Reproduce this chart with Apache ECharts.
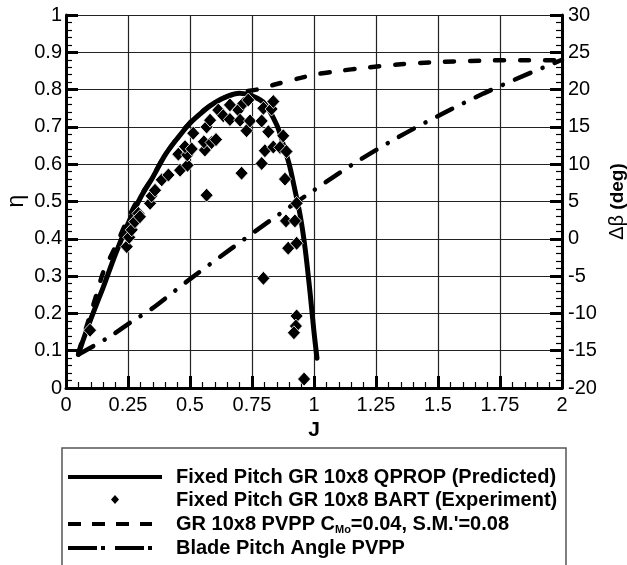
<!DOCTYPE html>
<html><head><meta charset="utf-8">
<script src="https://cdn.jsdelivr.net/npm/echarts@6/dist/echarts.min.js"></script>
<style>html,body{margin:0;padding:0;background:#fff}#c{width:627px;height:565px}</style>
</head><body><div id="c"></div>
<script>
// Fixed pitch QPROP (predicted): J vs eta
const qpropJ   = [0.05,0.07,0.10,0.15,0.20,0.25,0.30,0.35,0.40,0.45,0.50,0.55,0.60,0.65,0.70,0.75,0.80,0.85,0.875,0.90,0.92,0.945,0.965,0.985,1.00,1.012];
const qpropEta = [0.09,0.13,0.185,0.27,0.36,0.44,0.51,0.565,0.625,0.67,0.71,0.74,0.765,0.782,0.79,0.783,0.763,0.705,0.655,0.60,0.54,0.46,0.37,0.25,0.15,0.08];
// Fixed pitch BART (experiment)
const expJ   = [0.097,0.245,0.255,0.265,0.278,0.292,0.298,0.339,0.345,0.359,0.386,0.413,0.46,0.49,0.453,0.489,0.48,0.507,0.513,0.567,0.56,0.556,0.587,0.605,0.567,0.581,0.614,0.634,0.661,0.661,0.695,0.702,0.715,0.728,0.742,0.735,0.708,0.789,0.796,0.789,0.802,0.816,0.829,0.836,0.836,0.863,0.876,0.889,0.883,0.93,0.887,0.923,0.896,0.93,0.796,0.93,0.927,0.919,0.96];
const expEta = [0.155,0.379,0.404,0.424,0.446,0.468,0.459,0.495,0.515,0.53,0.558,0.571,0.584,0.597,0.627,0.625,0.647,0.641,0.683,0.517,0.638,0.66,0.658,0.666,0.70,0.718,0.745,0.73,0.759,0.72,0.745,0.718,0.763,0.69,0.716,0.772,0.576,0.716,0.75,0.602,0.636,0.687,0.748,0.768,0.646,0.645,0.676,0.634,0.56,0.495,0.448,0.448,0.375,0.388,0.294,0.193,0.166,0.148,0.024];
// PVPP efficiency
const pvppJ   = [0.05,0.09,0.125,0.15,0.20,0.24,0.285,0.34,0.40,0.50,0.60,0.70,0.77,0.85,0.95,1.00,1.10,1.20,1.35,1.50,1.70,1.85,2.00];
const pvppEta = [0.095,0.18,0.255,0.31,0.38,0.44,0.50,0.555,0.625,0.712,0.766,0.792,0.80,0.815,0.832,0.84,0.85,0.858,0.868,0.874,0.878,0.879,0.879];
// Blade pitch angle PVPP (deg, right axis)
const pitchJ    = [0.05,0.177,0.265,0.345,0.50,0.665,0.83,0.99,1.157,1.333,1.508,1.685,1.87,2.00];
const pitchBeta = [-15.5,-13.1,-11.1,-9.4,-5.4,-1.35,2.6,6.3,10,13.5,16.6,19.5,22.2,24];

const xTicks = [0,0.25,0.5,0.75,1,1.25,1.5,1.75,2];

const zip = (a,b)=>a.map((v,i)=>[v,b[i]]);
const FONT = '"Liberation Sans", Arial, Helvetica, sans-serif';

const chart = echarts.init(document.getElementById('c'), null, {renderer:'canvas'});

const axisCommon = {
  axisLine:{show:true,lineStyle:{color:'#000',width:3}},
  axisTick:{show:true,inside:true,length:12,lineStyle:{color:'#000',width:3}},
  minorTick:{show:true,splitNumber:5,length:6,lineStyle:{color:'#000',width:1.2}},
  axisLabel:{color:'#000',fontSize:20,fontFamily:FONT}
};

chart.setOption({
  animation:false,
  backgroundColor:'#fff',
  grid:{left:66,right:65,top:15,bottom:177,containLabel:false,outerBoundsMode:'none'},
  xAxis:{
    type:'value',min:xTicks[0],max:xTicks[xTicks.length-1],interval:0.25,
    ...axisCommon,
    axisLabel:{...axisCommon.axisLabel,margin:7},
    splitLine:{show:true,lineStyle:{color:'#222',width:1.2}},
    name:'J',nameLocation:'middle',nameGap:31,
    nameTextStyle:{color:'#000',fontSize:21,fontWeight:'bold',fontFamily:FONT}
  },
  yAxis:[{
    type:'value',min:0,max:1,interval:0.1,
    ...axisCommon,
    axisLabel:{...axisCommon.axisLabel,margin:4},
    splitLine:{show:true,lineStyle:{color:'#222',width:1.2}}
  },{
    type:'value',min:-20,max:30,interval:5,position:'right',
    ...axisCommon,
    axisLabel:{...axisCommon.axisLabel,margin:6},
    splitLine:{show:false},
    name:'{a|Δβ} {b|(deg)}',nameLocation:'middle',nameGap:45,nameRotate:90,
    nameTextStyle:{color:'#000',fontSize:19,fontFamily:FONT,
      rich:{a:{fontSize:20,fontFamily:FONT,color:'#000'},b:{fontSize:19,fontWeight:'bold',fontFamily:FONT,color:'#000'}}}
  }],
  series:[
    {name:'pvpp',type:'line',data:zip(pvppJ,pvppEta),showSymbol:false,smooth:0.3,z:3,
     lineStyle:{color:'#000',width:4.5,type:[9,16],cap:'round'}},
    {name:'pitch',type:'line',yAxisIndex:1,data:zip(pitchJ,pitchBeta),showSymbol:false,smooth:0.3,z:3,
     lineStyle:{color:'#000',width:4.5,type:[17,13,0.1,13],cap:'round'}},
    {name:'qprop',type:'line',data:zip(qpropJ,qpropEta),showSymbol:false,smooth:0.3,z:4,
     lineStyle:{color:'#000',width:5,cap:'round',join:'round'}},
    {name:'exp',type:'scatter',data:zip(expJ,expEta),symbol:'diamond',symbolSize:[13,14],z:5,
     itemStyle:{color:'#000',borderColor:'#fff',borderWidth:0.8,opacity:1}}
  ],
  graphic:[
    {type:'text',x:17,y:201,rotation:Math.PI/2,style:{text:'η',font:'23px '+FONT,fill:'#000',align:'center',verticalAlign:'middle'}},
    {type:'rect',shape:{x:62,y:448,width:504,height:140},style:{fill:'none',stroke:'#555',lineWidth:1.5},silent:true},
    {type:'line',shape:{x1:68,y1:477,x2:162,y2:477},style:{stroke:'#000',lineWidth:4}},
    {type:'polygon',shape:{points:[[115,495],[119,499.5],[115,504],[111,499.5]]},style:{fill:'#000'}},
    {type:'line',shape:{x1:68,y1:524,x2:152,y2:524},style:{stroke:'#000',lineWidth:4,lineDash:[13,11]}},
    {type:'line',shape:{x1:68,y1:548,x2:152,y2:548},style:{stroke:'#000',lineWidth:4,lineDash:[29,4,4,10]}},
    {type:'text',x:176,y:477,style:{text:'Fixed Pitch GR 10x8 QPROP (Predicted)',font:'bold 20px '+FONT,fill:'#000',verticalAlign:'middle'}},
    {type:'text',x:176,y:500,style:{text:'Fixed Pitch GR 10x8 BART (Experiment)',font:'bold 20px '+FONT,fill:'#000',verticalAlign:'middle'}},
    {type:'text',x:176,y:524,style:{text:'{t|GR 10x8 PVPP C}{s|Mo}{t|=0.04, S.M.\'=0.08}',verticalAlign:'middle',
      rich:{t:{fontSize:20,fontWeight:'bold',fontFamily:FONT,fill:'#000',lineHeight:22},
            s:{fontSize:11,fontWeight:'bold',fontFamily:FONT,fill:'#000',lineHeight:6,verticalAlign:'bottom'}}}},
    {type:'text',x:176,y:548,style:{text:'Blade Pitch Angle PVPP',font:'bold 20px '+FONT,fill:'#000',verticalAlign:'middle'}}
  ]
});
</script>
</body></html>
